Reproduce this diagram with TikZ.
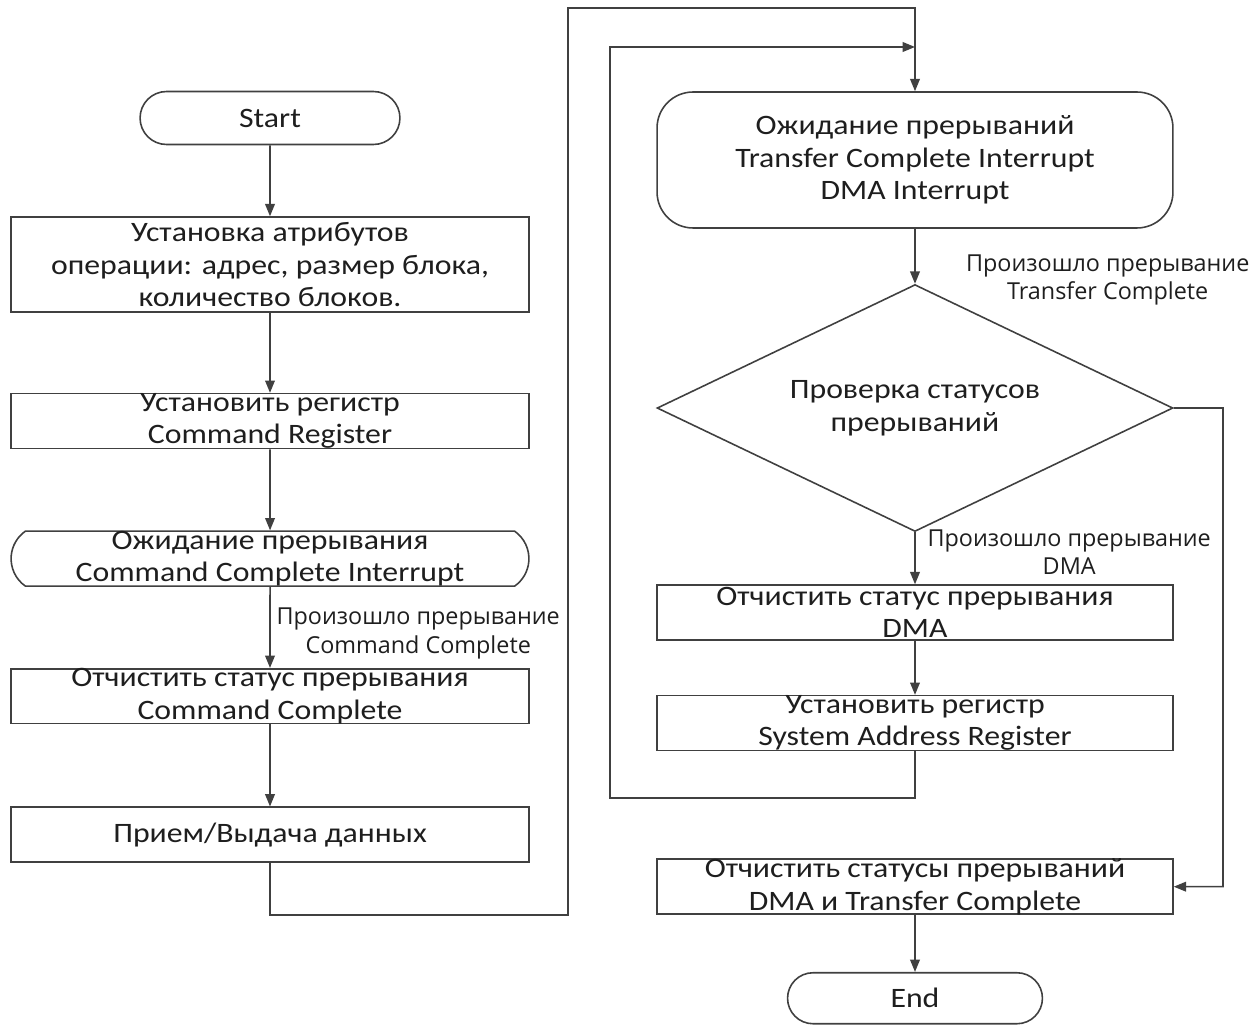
\documentclass[tikz,border=0pt]{standalone}
\usepackage{fontspec}
\setmainfont{Carlito}[FakeStretch=1.13]
\newfontfamily\notefont{Open Sans}
\usetikzlibrary{shapes.geometric, shapes.misc, arrows.meta, positioning}
\definecolor{flowline}{RGB}{64,64,64}
\definecolor{flowtext}{RGB}{30,30,30}
\tikzset{
  process/.style={
    rectangle, draw=flowline, fill=white, line width=0.9pt,
    minimum width=10.36cm, minimum height=1.1cm, inner xsep=4pt, inner ysep=-3pt,
    align=center, text=flowtext, font=\fontsize{16}{18.5}\selectfont
  },
  terminal/.style={
    process, rounded rectangle, minimum width=5.48cm, minimum height=1.06cm
  },
  waitbox/.style={
    process, rounded rectangle, rounded rectangle arc length=110,
    minimum width=10.64cm
  },
  waitbig/.style={
    process, rounded corners=0.72cm, minimum width=10.32cm, minimum height=2.72cm
  },
  decision/.style={
    process, diamond, aspect=2.2, minimum width=10.32cm, minimum height=4.94cm,
    inner sep=0pt
  },
  arrow/.style={-{Triangle[length=7pt, width=5.5pt]}, line width=0.9pt, color=flowline},
  note/.style={
    font=\notefont\fontsize{13.3}{16}\selectfont, text=flowtext,
    align=center, inner sep=1pt
  }
}
\begin{document}
\begin{tikzpicture}[x=0.02cm, y=-0.02cm]
  \useasboundingbox (0,0) rectangle (1252,1027);

  % Left column
  \node[terminal] (start) at (270,118) {Start};
  \node[process, minimum height=1.9cm, below=1.42cm of start] (setattr)
    {Установка атрибутов\\операции: адрес, размер блока,\\количество блоков.};
  \node[process, below=1.6cm of setattr] (cmdreg)
    {Установить регистр\\Command Register};
  \node[waitbox, below=1.62cm of cmdreg] (waitcmd)
    {Ожидание прерывания\\Command Complete Interrupt};
  \node[process, below=1.62cm of waitcmd] (clrcmd)
    {Отчистить статус прерывания\\Command Complete};
  \node[process, below=1.64cm of clrcmd] (xfer)
    {Прием/Выдача данных};

  \draw[arrow] (start) -- (setattr);
  \draw[arrow] (setattr) -- (cmdreg);
  \draw[arrow] (cmdreg) -- (waitcmd);
  \draw[arrow] (waitcmd) -- node[note, right=0.08cm, yshift=-0.12cm]
    {Произошло прерывание\\Command Complete} (clrcmd);
  \draw[arrow] (clrcmd) -- (xfer);

  % Right column
  \node[waitbig] (waitdma) at (915,160)
    {Ожидание прерываний\\Transfer Complete Interrupt\\DMA Interrupt};
  \node[decision, below=1.1cm of waitdma] (check)
    {Проверка статусов\\прерываний};
  \node[process, minimum width=10.32cm, below=1.04cm of check] (clrdma)
    {Отчистить статус прерывания\\DMA};
  \node[process, minimum width=10.32cm, below=1.08cm of clrdma] (sysaddr)
    {Установить регистр\\System Address Register};
  \node[process, minimum width=10.32cm, below=2.14cm of sysaddr] (clrall)
    {Отчистить статусы прерываний\\DMA и Transfer Complete};
  \node[terminal, minimum width=5.38cm, minimum height=1.02cm,
        below=1.14cm of clrall] (stop) {End};

  \draw[arrow] (waitdma) -- (check);
  \node[note, right=0.98cm of check.north, yshift=0.08cm] (notetc)
    {Произошло прерывание\\Transfer Complete};
  \draw[arrow] (check) -- node[note, right=0.2cm, yshift=0.13cm]
    {Произошло прерывание\\DMA} (clrdma);
  \draw[arrow] (clrdma) -- (sysaddr);
  \draw[arrow] (clrall) -- (stop);

  % Loops
  \coordinate (outerbot) at (568,915);
  \coordinate (outertop) at (568,8);
  \draw[arrow] (xfer.south) |- (outerbot) -- (outertop) -| (waitdma.north);

  \coordinate (innerbot) at (610,798);
  \coordinate (innertop) at (610,47);
  \draw[arrow] (sysaddr.south) |- (innerbot) -- (innertop)
    -- (innertop -| waitdma.north);

  \coordinate (rside) at (1223,408);
  \draw[arrow] (check.east) -- (rside) |- (clrall.east);
\end{tikzpicture}
\end{document}
